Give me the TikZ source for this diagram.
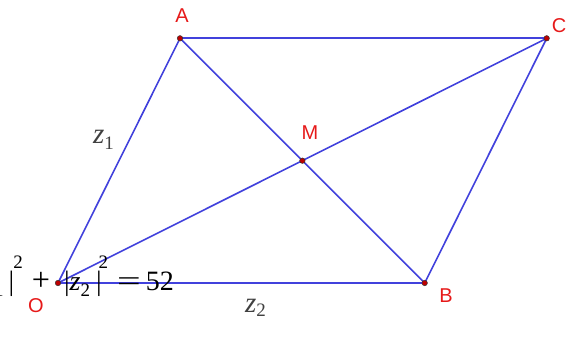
\documentclass[tikz,border=0pt]{standalone}
\usepackage{fontspec}
\setmainfont{Liberation Serif}
\newfontfamily\lblfont{Liberation Sans}
\definecolor{segblue}{RGB}{65,65,220}
\definecolor{ptred}{RGB}{230,25,25}
\definecolor{dotred}{RGB}{190,0,0}
\newcommand{\smallfs}{\fontsize{19}{19}\selectfont}
\begin{document}
\begin{tikzpicture}[x=1pt,y=-1pt,
  seg/.style={segblue,line width=1.6pt},
  pt/.style={circle,fill=dotred,draw=black!80,line width=0.5pt,inner sep=0pt,minimum size=5.5pt},
  lbl/.style={text=ptred,font=\lblfont\fontsize{20}{20}\selectfont,inner sep=0pt},
  zl/.style={text=black!75,font=\fontsize{29}{29}\selectfont,inner sep=0pt,anchor=base west}]
\useasboundingbox (0,0) rectangle (566,353);
\clip (0,0) rectangle (566,353);
\coordinate (O) at (58,283);
\coordinate (A) at (180,38.3);
\coordinate (B) at (424.7,283);
\coordinate (C) at (546.7,38.3);
\coordinate (M) at (302.4,160.7);
\draw[seg] (O) -- (A);
\draw[seg] (A) -- (C);
\draw[seg] (C) -- (B);
\draw[seg] (B) -- (O);
\draw[seg] (O) -- (C);
\draw[seg] (A) -- (B);
\node[pt] (Od) at (O) {};
\node[pt] (Ad) at (A) {};
\node[pt] (Bd) at (B) {};
\node[pt] (Cd) at (C) {};
\node[pt] (Md) at (M) {};
\node[lbl] (Al) at (182,15.5) {A};
\node[lbl] (Cl) at (559,26) {C};
\node[lbl] (Ml) at (310,133) {M};
\node[lbl] (Bl) at (446,296) {B};
\node[lbl] (Ol) at (36,306) {O};
\node[zl] (z1) at (93,143) {\textit{z}\raisebox{-6pt}{\smallfs 1}};
\node[zl] (z2) at (245,312) {\textit{z}\raisebox{-5pt}{\smallfs 2}};
\node[anchor=base east,inner sep=0pt,font=\fontsize{28}{28}\selectfont] (eq) at (174,290)
  {|\textit{z}\raisebox{-6pt}{\smallfs 1}\hspace{5pt}|\hspace{-1pt}\raisebox{22pt}{\smallfs 2}\hspace{9pt}\scalebox{1.15}{+}\hspace{14pt}|\textit{z}\raisebox{-6pt}{\smallfs 2}\hspace{6pt}|\hspace{-3pt}\raisebox{22pt}{\smallfs 2}\hspace{9pt}\scalebox{1.5}[1]{=}\hspace{5pt}52};
\end{tikzpicture}
\end{document}
